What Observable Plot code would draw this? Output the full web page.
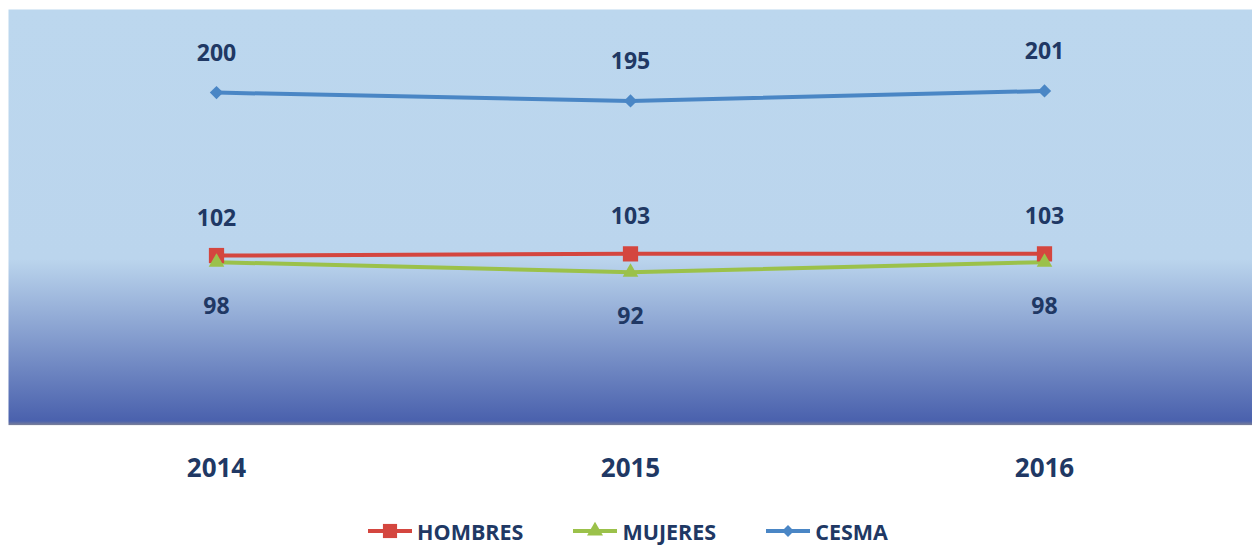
<!DOCTYPE html>
<html><head><meta charset="utf-8">
<script src="https://cdn.jsdelivr.net/npm/d3@7"></script>
<script src="https://cdn.jsdelivr.net/npm/@observablehq/plot@0.6"></script>
<style>
body{margin:0;background:#fff;font-family:"Open Sans",sans-serif;}
#legend{display:flex;justify-content:center;align-items:center;height:42px;font-weight:bold;font-size:21.5px;color:#203864;padding-left:4px;}
.item{display:flex;align-items:center;margin:0 25px;}
.item svg{margin-right:5px;}
</style></head>
<body>
<div id="chart"></div>
<div id="legend"></div>
<script>
const years = ["2014", "2015", "2016"];
const hombres = [102, 103, 103];
const mujeres = [98, 92, 98];
const cesma = [200, 195, 201];
const seriesNames = ["HOMBRES", "MUJERES", "CESMA"];
const seriesColors = ["#d4463f", "#9bc14a", "#4a86c5"];
const seriesSymbols = ["square", "triangle", "diamond2"];
const seriesR = [8.6, 5.8, 6];
const labelDy = [-37, 44, -39];

const seriesValues = [hombres, mujeres, cesma];
const data = [];
seriesValues.forEach((vals, si) => {
  vals.forEach((v, i) => data.push({series: seriesNames[si], year: years[i], value: v}));
});

const navy = "#203864";
const font = "'Open Sans', sans-serif";
const plot = Plot.plot({
  width: 1252, height: 510,
  marginLeft: 8, marginRight: 0, marginTop: 9, marginBottom: 85.4,
  style: {fontFamily: font, background: "transparent"},
  x: {type: "point", domain: years, padding: 0.5},
  y: {domain: [0, 250], axis: null},
  color: {domain: seriesNames, range: seriesColors},
  marks: [
    Plot.frame({fill: "url(#bggrad)", stroke: null}),
    Plot.axisX({tickSize: 0, tickPadding: 33, fontSize: 26, fontWeight: "bold", fill: navy, label: null}),
    Plot.line(data, {x: "year", y: "value", z: "series", stroke: "series", strokeWidth: 4}),
    ...seriesNames.map((s, si) => Plot.dot(data.filter(d => d.series === s), {x: "year", y: "value", fill: "series", symbol: seriesSymbols[si], r: seriesR[si], stroke: null})),
    ...seriesNames.map((s, si) => Plot.text(data.filter(d => d.series === s), {x: "year", y: "value", text: d => String(d.value), dy: labelDy[si], fontSize: 23, fontWeight: "bold", fill: navy}))
  ]
});
const defs = d3.select(plot).insert("defs", ":first-child");
const g = defs.append("linearGradient").attr("id", "bggrad").attr("x1", 0).attr("y1", 0).attr("x2", 0).attr("y2", 1);
g.append("stop").attr("offset", "0").attr("stop-color", "#bcd7ee");
g.append("stop").attr("offset", "0.6").attr("stop-color", "#bbd5ed");
g.append("stop").attr("offset", "0.99").attr("stop-color", "#4a61ad");
g.append("stop").attr("offset", "1").attr("stop-color", "#7a7f98");
document.getElementById("chart").appendChild(plot);

const legend = d3.select("#legend");
seriesNames.forEach((s, si) => {
  const item = legend.append("div").attr("class", "item");
  const svg = item.append("svg").attr("width", 44).attr("height", 20);
  svg.append("line").attr("x1", 0).attr("x2", 44).attr("y1", 10).attr("y2", 10).attr("stroke", seriesColors[si]).attr("stroke-width", 4);
  const sym = {square: d3.symbolSquare, triangle: d3.symbolTriangle, diamond2: d3.symbolDiamond2}[seriesSymbols[si]];
  const size = [200, 110, 90][si];
  svg.append("path").attr("transform", "translate(22,10)").attr("d", d3.symbol(sym, size)()).attr("fill", seriesColors[si]);
  item.append("span").text(s);
});
</script>
</body></html>
